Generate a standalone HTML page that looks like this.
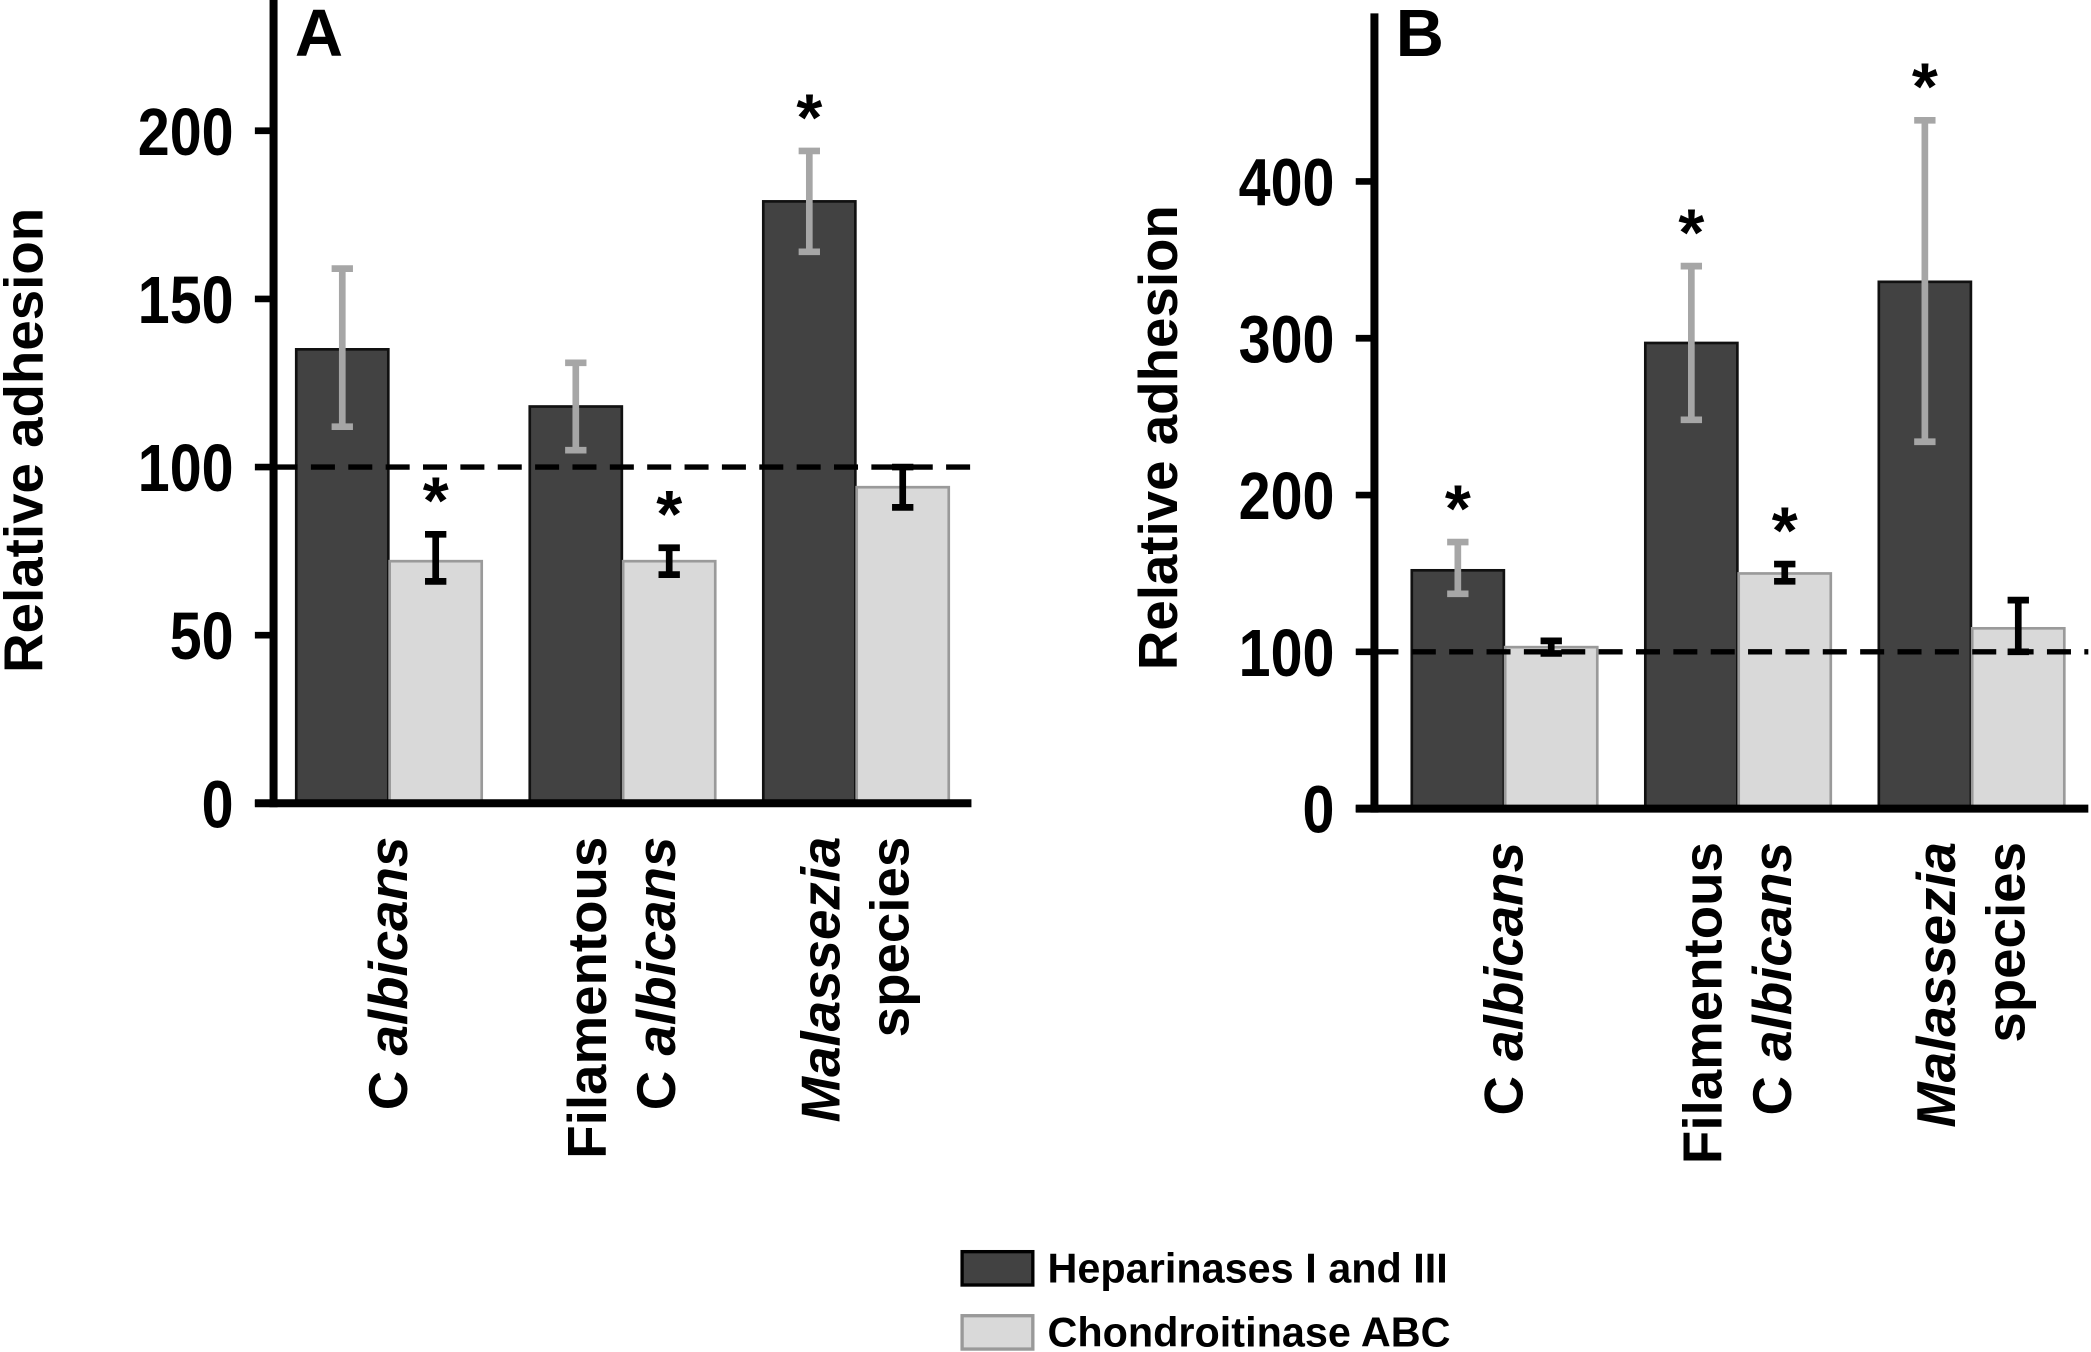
<!DOCTYPE html>
<html><head><meta charset="utf-8">
<style>
html,body{margin:0;padding:0;background:#fff;}
svg{display:block;font-family:"Liberation Sans",Arial,sans-serif;font-weight:bold;}
</style></head>
<body>
<svg id="chart" width="2091" height="1352" viewBox="0 0 1567 1013.2" xmlns="http://www.w3.org/2000/svg">
<g>
  <rect x="721" y="938" width="53" height="25" fill="#424242" stroke="#000" stroke-width="2.5"/>
  <text x="785" y="961" font-size="31" textLength="300">Heparinases I and III</text>
  <rect x="721" y="986" width="53" height="25" fill="#d9d9d9" stroke="#999" stroke-width="2.5"/>
  <text x="785" y="1009" font-size="31" textLength="302">Chondroitinase ABC</text>
</g>
</svg>
<script>
const categories = ["C albicans", "Filamentous C albicans", "Malassezia species"];
const aHeparinases = [135, 118, 179];
const aHeparinasesLow = [112, 105, 164];
const aHeparinasesHigh = [159, 131, 194];
const aChondroitinase = [72, 72, 94];
const aChondroitinaseLow = [66, 68, 88];
const aChondroitinaseHigh = [80, 76, 100];
const aStarsHep = [false, false, true];
const aStarsChon = [true, true, false];
const aTicks = [0, 50, 100, 150, 200];
const bHeparinases = [152, 297, 336];
const bHeparinasesLow = [137, 248, 234];
const bHeparinasesHigh = [170, 346, 439];
const bChondroitinase = [103, 150, 115];
const bChondroitinaseLow = [99, 145, 100];
const bChondroitinaseHigh = [107, 156, 133];
const bStarsHep = [true, true, true];
const bStarsChon = [false, true, false];
const bTicks = [0, 100, 200, 300, 400];

const NS = "http://www.w3.org/2000/svg";
const svg = document.getElementById("chart");
function mk(tag, attrs, parent) {
  const e = document.createElementNS(NS, tag);
  for (const k in attrs) e.setAttribute(k, attrs[k]);
  (parent || svg).appendChild(e);
  return e;
}

function panel(cfg) {
  const g = mk("g", {});
  
  
  const y = v => cfg.y0 - (v / cfg.maxV) * (cfg.y0 - cfg.yMaxPx);
  const x = (i, s) => cfg.x0 + i * cfg.pitch + s * (cfg.bw + 1);
  const series = [
    {v: cfg.hep, lo: cfg.hepLo, hi: cfg.hepHi, fill: "#424242", stroke: "#111", err: "#a6a6a6", star: cfg.starH, name: "heparinases"},
    {v: cfg.chon, lo: cfg.chonLo, hi: cfg.chonHi, fill: "#d9d9d9", stroke: "#9a9a9a", err: "#000", star: cfg.starC, name: "chondroitinase"}
  ];
  series.forEach((s, si) => {
    s.v.forEach((val, i) => {
      const bx = x(i, si);
      const r = mk("rect", {x: bx, y: y(val), width: cfg.bw, height: y(0) - y(val), fill: s.fill, stroke: s.stroke, "stroke-width": 2}, g);
      
      
      const cx = bx + cfg.bw / 2;
      const eg = mk("g", {stroke: s.err, "stroke-width": 5, fill: "none"}, g);
      
      
      mk("line", {x1: cx, x2: cx, y1: y(s.lo[i]), y2: y(s.hi[i])}, eg);
      mk("line", {x1: cx - 8, x2: cx + 8, y1: y(s.lo[i]), y2: y(s.lo[i])}, eg);
      mk("line", {x1: cx - 8, x2: cx + 8, y1: y(s.hi[i]), y2: y(s.hi[i])}, eg);
      if (s.star[i]) {
        const t = mk("text", {x: cx, y: y(s.hi[i]) - 8, "font-size": 50, "text-anchor": "middle"}, g);
        
        
        t.textContent = "*";
      }
    });
  });
  const d = mk("line", {x1: cfg.axX, x2: cfg.xEnd, y1: y(100), y2: y(100), stroke: "#000", "stroke-width": 4, "stroke-dasharray": "18 10"}, g);
  
  
  const ya = mk("line", {x1: cfg.axX, x2: cfg.axX, y1: cfg.axTop, y2: y(0) + 3, stroke: "#000", "stroke-width": 6}, g);
  
  
  const xa = mk("line", {x1: cfg.axX - 14, x2: cfg.xEnd, y1: y(0), y2: y(0), stroke: "#000", "stroke-width": 6}, g);
  
  
  cfg.ticks.forEach(tv => {
    const tk = mk("line", {x1: cfg.axX - 14, x2: cfg.axX, y1: y(tv), y2: y(tv), stroke: "#000", "stroke-width": 5}, g);
    
    
    const tl = mk("text", {x: 0, y: 0, "font-size": 50, "text-anchor": "end", transform: `translate(${cfg.axX - 30},${y(tv) + 18}) scale(0.86,1)`}, g);
    
    
    tl.textContent = tv;
  });
  const yt = mk("text", {x: 0, y: 0, "font-size": 41, "text-anchor": "middle", transform: `translate(${cfg.titleX},${cfg.titleY}) rotate(-90)`}, g);
  
  
  yt.textContent = "Relative adhesion";
  const pl = mk("text", {x: cfg.axX + 16, y: 42, "font-size": 50}, g);
  
  
  pl.textContent = cfg.id === "panel-a" ? "A" : "B";
  const labelSets = [
    [[{t: "C ", i: false}, {t: "albicans", i: true}]],
    [[{t: "Filamentous", i: false}], [{t: "C ", i: false}, {t: "albicans", i: true}]],
    [[{t: "Malassezia", i: true}], [{t: "species", i: false}]]
  ];
  categories.forEach((c, i) => {
    const gc = x(i, 0) + cfg.bw;
    const set = labelSets[i];
    set.forEach((ln, li) => {
      const lx = set.length === 1 ? gc + 14 : gc - 12 + li * 52;
      const t = mk("text", {x: 0, y: 0, "font-size": 41, "text-anchor": "end", transform: `translate(${lx},${y(0) + 25}) rotate(-90)`}, g);
      
      
      ln.forEach(part => {
        const sp = mk("tspan", {"font-style": part.i ? "italic" : "normal"}, t);
        sp.textContent = part.t;
      });
    });
  });
}

panel({id: "panel-a", x0: 222, pitch: 175, bw: 69, y0: 602, yMaxPx: 98, maxV: 200, axX: 205, axTop: 0, xEnd: 728,
  hep: aHeparinases, hepLo: aHeparinasesLow, hepHi: aHeparinasesHigh, chon: aChondroitinase, chonLo: aChondroitinaseLow, chonHi: aChondroitinaseHigh,
  starH: aStarsHep, starC: aStarsChon, ticks: aTicks, titleX: 32, titleY: 330});
panel({id: "panel-b", x0: 1058, pitch: 175, bw: 69, y0: 606, yMaxPx: 136, maxV: 400, axX: 1030, axTop: 10, xEnd: 1565,
  hep: bHeparinases, hepLo: bHeparinasesLow, hepHi: bHeparinasesHigh, chon: bChondroitinase, chonLo: bChondroitinaseLow, chonHi: bChondroitinaseHigh,
  starH: bStarsHep, starC: bStarsChon, ticks: bTicks, titleX: 882, titleY: 328});
</script>
</body></html>
